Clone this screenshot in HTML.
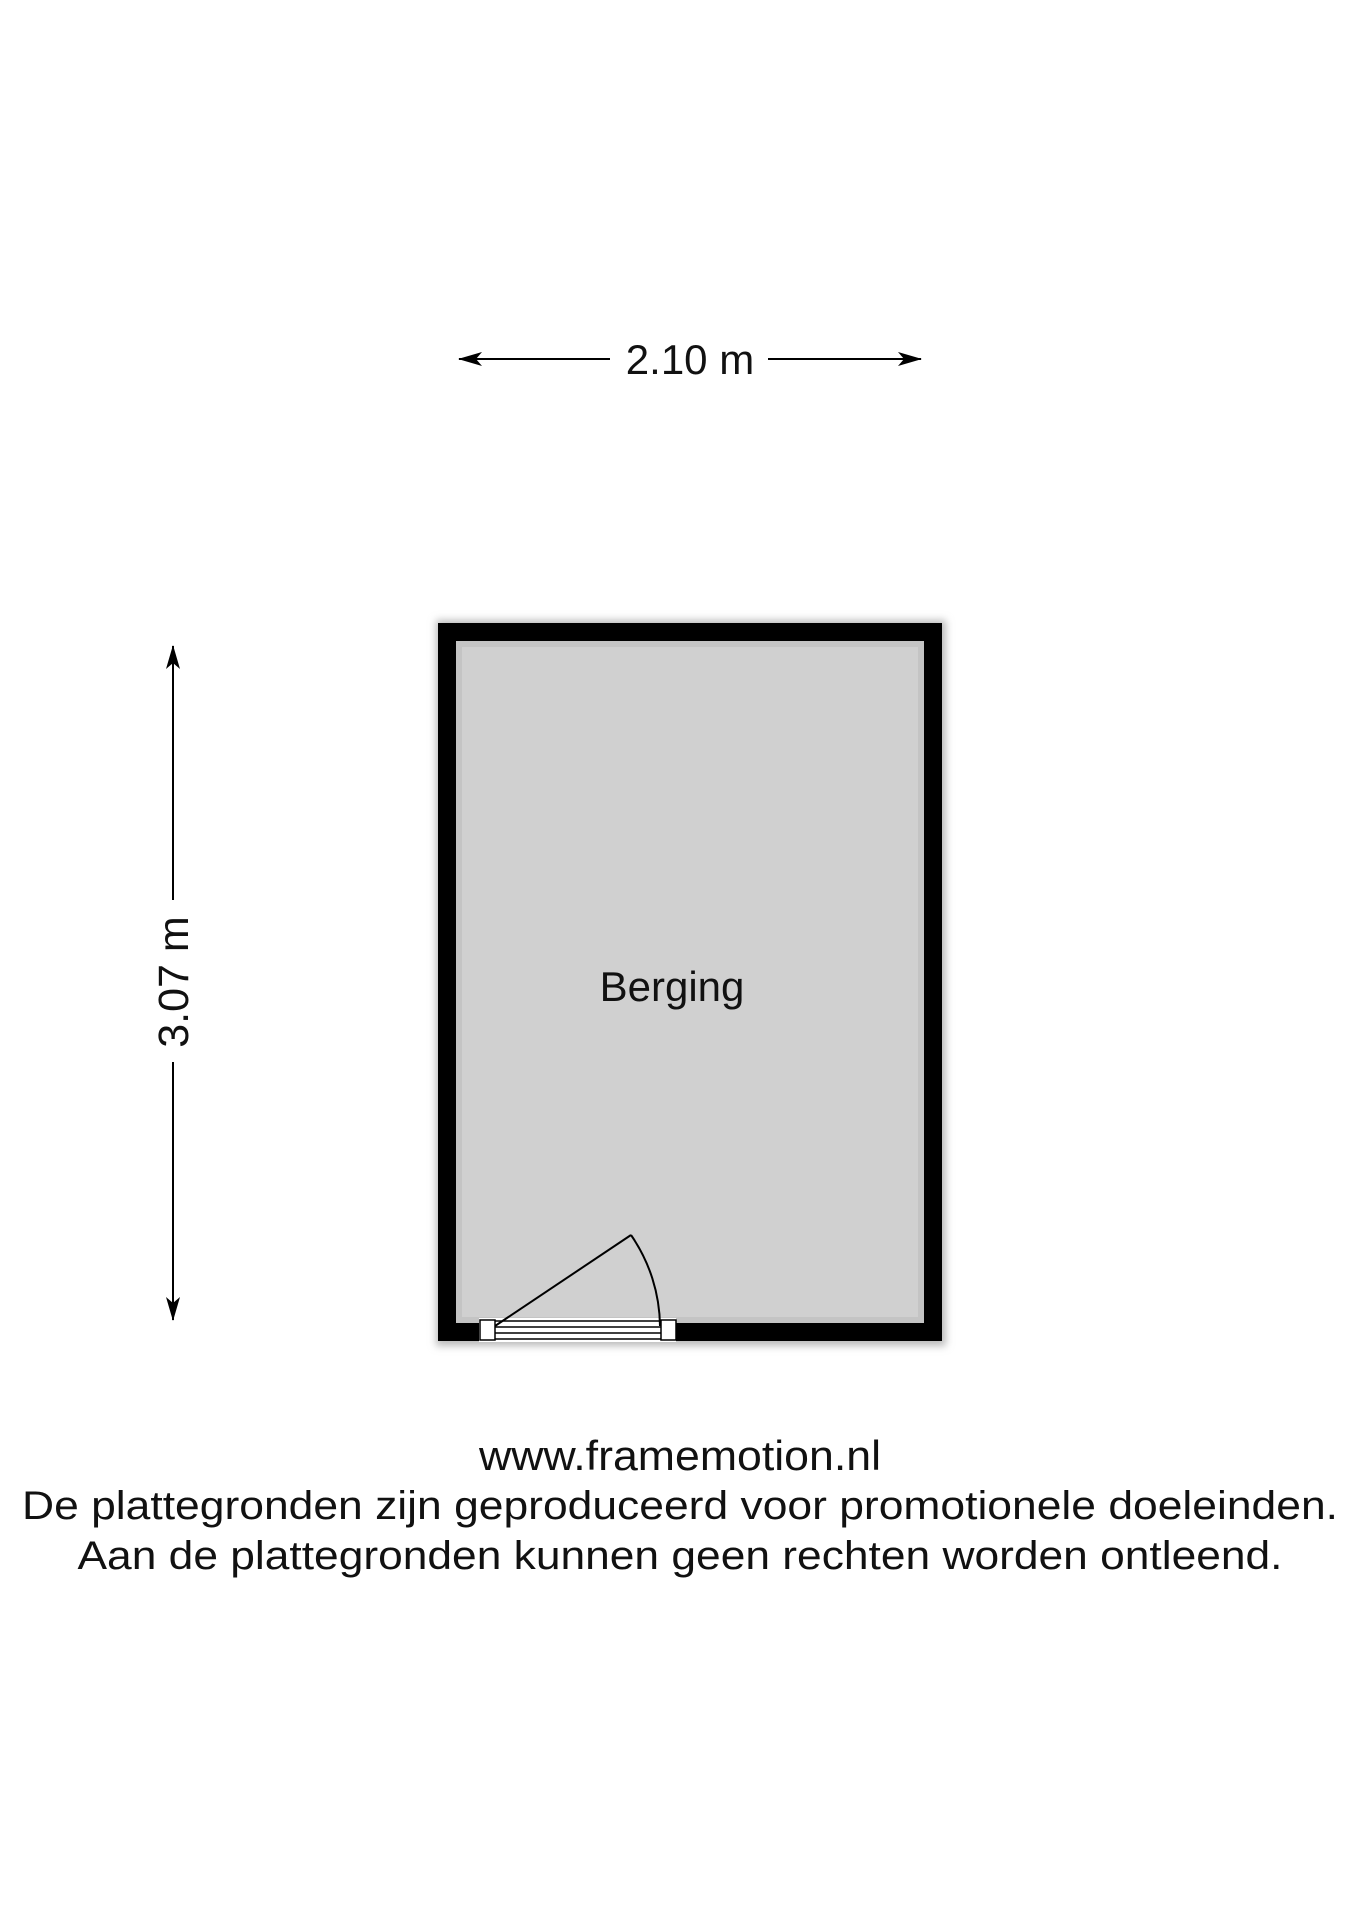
<!DOCTYPE html>
<html><head><meta charset="utf-8"><style>
html,body{margin:0;padding:0;background:#fff;}
svg{display:block;}
text{font-family:"Liberation Sans",sans-serif;fill:#111;}
</style></head><body>
<svg width="1358" height="1920" viewBox="0 0 1358 1920" xmlns="http://www.w3.org/2000/svg">
<defs>
<filter id="sh" x="-10%" y="-10%" width="120%" height="120%"><feGaussianBlur stdDeviation="4"/></filter>
<marker id="ah" markerWidth="24" markerHeight="14" refX="23" refY="7" orient="auto" markerUnits="userSpaceOnUse"><path d="M0,0 L24,7 L0,14 L6,7 z" fill="#000"/></marker>
</defs>
<rect x="436" y="620" width="510" height="726" fill="#bbb" filter="url(#sh)"/>
<rect x="438" y="623" width="504" height="718" fill="#000"/>
<rect x="459" y="644" width="462" height="676" fill="#d0d0d0"/>
<rect x="459" y="644" width="462" height="676" fill="none" stroke="#c4c4c4" stroke-width="6"/>
<rect x="479" y="1318" width="197" height="24" fill="#fff"/>
<rect x="480" y="1320" width="15" height="20" fill="#fff" stroke="#000" stroke-width="1.5"/>
<rect x="661" y="1320" width="15" height="20" fill="#fff" stroke="#000" stroke-width="1.5"/>
<line x1="495" y1="1321" x2="661" y2="1321" stroke="#000" stroke-width="1.5"/>
<line x1="495" y1="1327" x2="661" y2="1327" stroke="#000" stroke-width="1.5"/>
<line x1="495" y1="1333" x2="661" y2="1333" stroke="#000" stroke-width="1.5"/>
<line x1="495" y1="1339" x2="661" y2="1339" stroke="#000" stroke-width="1.5"/>
<line x1="495" y1="1326" x2="631" y2="1235" stroke="#000" stroke-width="2"/>
<path d="M631,1235 A163,163 0 0 1 660,1326" fill="none" stroke="#000" stroke-width="2"/>
<line x1="610" y1="359" x2="459" y2="359" stroke="#000" stroke-width="2" marker-end="url(#ah)"/>
<line x1="768" y1="359" x2="921" y2="359" stroke="#000" stroke-width="2" marker-end="url(#ah)"/>
<text x="690" y="374" font-size="42" text-anchor="middle">2.10 m</text>
<line x1="173" y1="900" x2="173" y2="646" stroke="#000" stroke-width="2" marker-end="url(#ah)"/>
<line x1="173" y1="1062" x2="173" y2="1320" stroke="#000" stroke-width="2" marker-end="url(#ah)"/>
<text x="0" y="0" font-size="43" text-anchor="middle" transform="translate(188,982) rotate(-90)">3.07 m</text>
<text x="672" y="1001" font-size="42" text-anchor="middle">Berging</text>
<text x="680" y="1470" font-size="42" text-anchor="middle" textLength="402" lengthAdjust="spacingAndGlyphs">www.framemotion.nl</text>
<text x="680" y="1519" font-size="40" text-anchor="middle" textLength="1316" lengthAdjust="spacingAndGlyphs">De plattegronden zijn geproduceerd voor promotionele doeleinden.</text>
<text x="680" y="1569" font-size="40" text-anchor="middle" textLength="1205" lengthAdjust="spacingAndGlyphs">Aan de plattegronden kunnen geen rechten worden ontleend.</text>
</svg>
</body></html>
